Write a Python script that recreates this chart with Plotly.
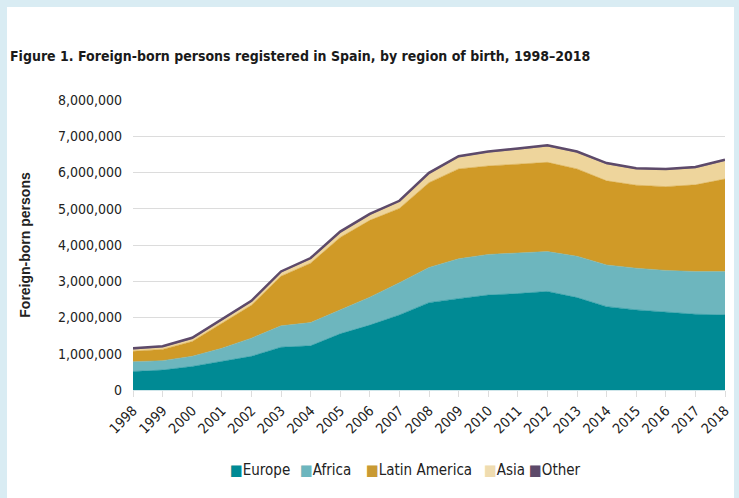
import plotly.graph_objects as go

years = list(range(1998, 2019))
europe = [510000, 550000, 650000, 780000, 930000, 1180000, 1220000, 1550000, 1790000, 2070000,
          2410000, 2520000, 2620000, 2660000, 2720000, 2550000, 2300000, 2210000, 2140000, 2090000, 2070000]
africa = [270000, 260000, 280000, 370000, 500000, 590000, 640000, 650000, 770000, 890000,
          970000, 1100000, 1120000, 1120000, 1100000, 1140000, 1150000, 1150000, 1160000, 1180000, 1200000]
latin_america = [290000, 310000, 410000, 690000, 910000, 1370000, 1640000, 2010000, 2120000, 2050000,
                 2340000, 2480000, 2440000, 2450000, 2460000, 2410000, 2320000, 2290000, 2310000, 2390000, 2550000]
asia = [50000, 60000, 70000, 80000, 90000, 100000, 110000, 130000, 150000, 180000,
        240000, 320000, 370000, 400000, 440000, 450000, 460000, 440000, 460000, 460000, 500000]
other = [30000] * 21

series = [
    ("Europe", europe, "#008a94", "#008a94"),
    ("Africa", africa, "#6db6be", "#6db6be"),
    ("Latin America", latin_america, "#d09a27", "#c99a33"),
    ("Asia", asia, "#eed59c", "#efdcb0"),
    ("Other", other, "#5d4a6a", "#5d4a6a"),
]
y_ticks = [0, 1000000, 2000000, 3000000, 4000000, 5000000, 6000000, 7000000, 8000000]
y_tick_text = ["0", "1,000,000", "2,000,000", "3,000,000", "4,000,000", "5,000,000",
               "6,000,000", "7,000,000", "8,000,000"]

NARROW = "DejaVu Sans Condensed, Liberation Sans Narrow, Arial Narrow, sans-serif"
BORDER = "#d9ecf3"

W, H = 739, 498
PL, PR, PT, PB = 133, 725, 100, 390
legend_px = [228, 298, 364, 482, 527]
legend_py = 470

fig = go.Figure()
for name, vals, col, _ in series:
    fig.add_trace(go.Scatter(
        x=years, y=vals, name=name, stackgroup="one", mode="lines",
        fillcolor=col,
        line=dict(color=col, width=2.5 if name == "Other" else 0.5),
        showlegend=False, hoverinfo="skip",
    ))

for (name, _, _, lcol), px in zip(series, legend_px):
    fig.add_annotation(
        x=(px - PL) / (PR - PL), y=(PB - legend_py) / (PB - PT), xref="paper", yref="paper",
        xanchor="left", yanchor="middle", showarrow=False,
        text=f'<span style="color:{lcol}">\u25A0</span>{name}',
        font=dict(family=NARROW, size=15, color="#222"),
    )

fig.add_shape(type="rect", xref="paper", yref="paper", layer="below",
              x0=(7 - PL) / (PR - PL), x1=(734 - PL) / (PR - PL),
              y0=-0.45, y1=(PB - 7) / (PB - PT),
              fillcolor="white", line=dict(width=0))

fig.update_layout(
    width=W, height=H,
    margin=dict(l=PL, r=W - PR, t=PT, b=H - PB),
    paper_bgcolor=BORDER,
    plot_bgcolor="white",
    showlegend=False,
    title=dict(text="<b>Figure 1. Foreign-born persons registered in Spain, by region of birth, 1998\u20132018</b>",
               x=10 / W, xref="container", xanchor="left", y=1 - 56 / H, yref="container", yanchor="middle",
               font=dict(family=NARROW, size=14, color="#1a1a1a")),
    xaxis=dict(range=[1998, 2018], tickmode="array", tickvals=years,
               ticktext=[str(y) for y in years], tickangle=-45,
               tickfont=dict(family=NARROW, size=14, color="#222"),
               showgrid=False, zeroline=False, showline=True, linecolor="#cfe6ea",
               ticks="outside", ticklen=6, tickcolor="#dddddd", fixedrange=True,
               automargin=False),
    yaxis=dict(range=[0, 8000000], tickmode="array", tickvals=y_ticks, ticktext=y_tick_text,
               tickfont=dict(family=NARROW, size=14, color="#222"),
               showgrid=True, gridcolor="#dcdcdc", gridwidth=1, zeroline=False,
               ticks="", ticklabelstandoff=10, automargin=False,
               title=dict(text="<b>Foreign-born persons</b>",
                          font=dict(family="Liberation Sans, Arial, sans-serif", size=14, color="#222"),
                          standoff=24),
               fixedrange=True),
)

fig.write_html("out.html",
               config={"displayModeBar": False},
               post_script=f"document.body.style.margin='0';document.body.style.background='{BORDER}';")
